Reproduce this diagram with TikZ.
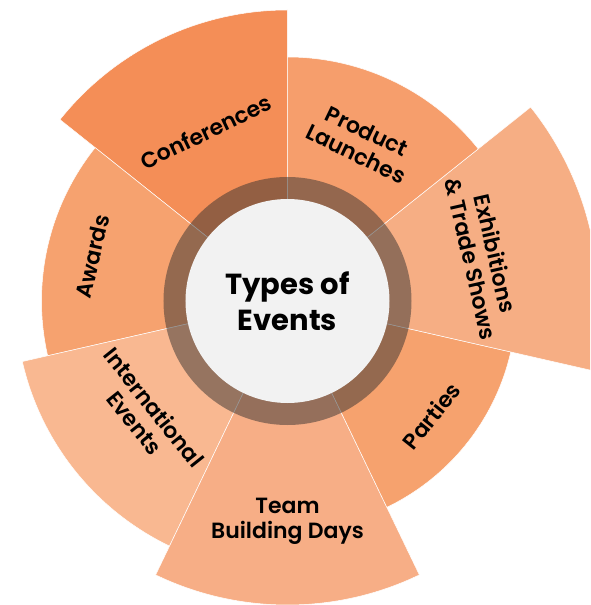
\documentclass[tikz,border=0pt]{standalone}
\usepackage{fontspec}
\setmainfont{Poppins}[BoldFont={* SemiBold}]
\newfontfamily\hubfont{Poppins}[UprightFont={* Bold}]
\usepackage{tikz}

\definecolor{confcol}{HTML}{F48E57}
\definecolor{prodcol}{HTML}{F69E6C}
\definecolor{exhibcol}{HTML}{F6AE84}
\definecolor{partycol}{HTML}{F6A26E}
\definecolor{teamcol}{HTML}{F7AE86}
\definecolor{intlcol}{HTML}{F9B891}
\definecolor{awardcol}{HTML}{F6A26F}
\definecolor{ringcol}{HTML}{343231}
\definecolor{hubcol}{HTML}{F2F2F2}

\tikzset{
  sector/.style={draw=white, line width=0.5pt},
  seclabel/.style={font=\bfseries\fontsize{22}{25}\selectfont, align=center, text=black},
  hublabel/.style={font=\hubfont\fontsize{29}{36}\selectfont, align=center, text=black}
}

\begin{document}
\begin{tikzpicture}
    % Frame
    \useasboundingbox (-287.5pt,-304pt) rectangle (302.5pt,301pt);
    \clip (-287.5pt,-304pt) rectangle (302.5pt,301pt);
    % Sectors
    \filldraw[sector, fill=confcol] (0,0) -- (90:291pt)
    arc[start angle=90, end angle=141.43, radius=291pt] -- cycle; % Conferences
    \filldraw[sector, fill=awardcol] (0,0) -- (141.43:246pt)
    arc[start angle=141.43, end angle=192.86, radius=246pt] -- cycle; % Awards
    \filldraw[sector, fill=intlcol] (0,0) -- (192.86:272pt)
    arc[start angle=192.86, end angle=244.29, radius=272pt] -- cycle; % International
    \filldraw[sector, fill=teamcol] (0,0) -- (244.29:304pt)
    arc[start angle=244.29, end angle=295.71, radius=304pt] -- cycle; % Team building
    \filldraw[sector, fill=partycol] (0,0) -- (295.71:229pt)
    arc[start angle=295.71, end angle=347.14, radius=229pt] -- cycle; % Parties
    \filldraw[sector, fill=exhibcol] (0,0) -- (-12.86:311pt)
    arc[start angle=-12.86, end angle=38.57, radius=311pt] -- cycle; % Exhibitions
    \filldraw[sector, fill=prodcol] (0,0) -- (38.57:244pt)
    arc[start angle=38.57, end angle=90, radius=244pt] -- cycle; % Product launches
    % Ring and hub
    \fill[ringcol, opacity=0.5] (0,0) circle (124pt);
    \fill[hubcol] (0,0) circle (102pt);
    \node[hublabel] (hub) at (0,0) {Types of\\Events};
    % Labels
    \node[seclabel, rotate=25.71] (conf) at (115.71:188pt) {Conferences};
    \node[seclabel, rotate=-25.71] (prod) at (65:175pt) {Product\\Launches};
    \node[seclabel, rotate=-77.14] (exhib) at (12.86:201pt) {Exhibitions\\\& Trade Shows};
    \node[seclabel, rotate=51.43] (party) at (-38.57:184pt) {Parties};
    \node[seclabel] (team) at (-90:220pt) {Team\\Building Days};
    \node[seclabel, rotate=-51.43] (intl) at (-141.43:183pt) {International\\Events};
    \node[seclabel, rotate=77.14] (award) at (167.14:200pt) {Awards};
  \end{tikzpicture}
\end{document}
